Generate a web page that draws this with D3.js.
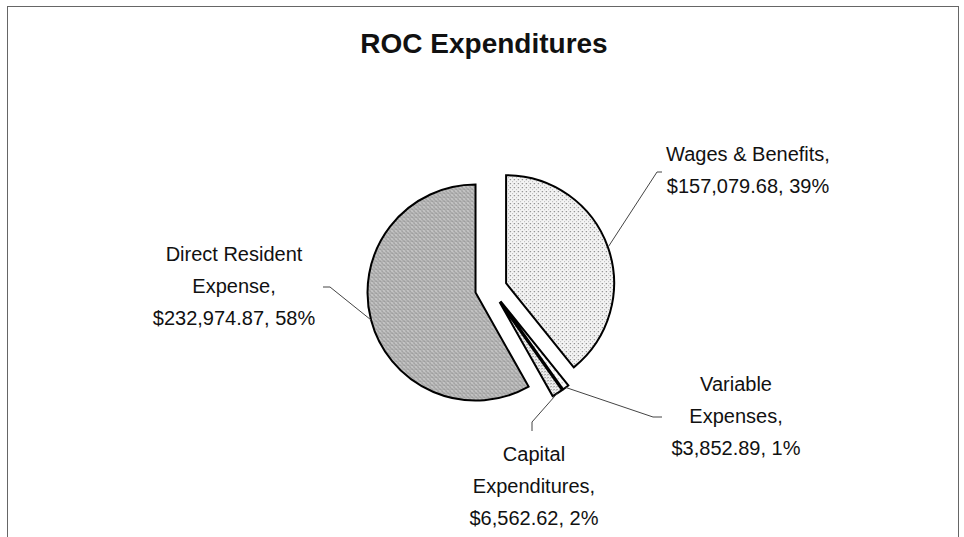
<!DOCTYPE html>
<html>
<head>
<meta charset="utf-8">
<script src="https://cdn.jsdelivr.net/npm/d3@7"></script>
<style>
  html, body { margin: 0; padding: 0; background: #fff; }
  svg { display: block; }
  text { font-family: "Liberation Sans", Arial, sans-serif; fill: #111; }
</style>
</head>
<body>
<svg id="chart" width="964" height="537"></svg>
<script>
// ---- data ----
const title = "ROC Expenditures";
const categories = ["Wages & Benefits", "Variable Expenses", "Capital Expenditures", "Direct Resident Expense"];
const values = [157079.68, 3852.89, 6562.62, 232974.87];
const percents = ["39%", "1%", "2%", "58%"];
const labelLines = [
  ["Wages & Benefits,", "$157,079.68, 39%"],
  ["Variable", "Expenses,", "$3,852.89, 1%"],
  ["Capital", "Expenditures,", "$6,562.62, 2%"],
  ["Direct Resident", "Expense,", "$232,974.87, 58%"]
];

// ---- layout ----
const W = 964, H = 537;
const cx = 491, cy = 288.5, R = 108, explode = 16;
const lineH = 32;
// label anchor (center x, first baseline y) and leader end point per slice
const labelPos = [
  {x: 748, y: 161, lx: 657, ly: 172, hx: 662},
  {x: 736, y: 391, lx: 653, ly: 417, hx: 662},
  {x: 534, y: 461, lx: 532, ly: 422, vy: 431},
  {x: 234, y: 261, lx: 330, ly: 287, hx: 323}
];
const fills = ["url(#patWages)", "url(#patVariable)", "url(#patCapital)", "url(#patDirect)"];

const svg = d3.select("#chart");

// patterns
const defs = svg.append("defs");
function makePattern(id, size, bg, dots) {
  const p = defs.append("pattern").attr("id", id).attr("patternUnits", "userSpaceOnUse")
    .attr("width", size).attr("height", size);
  p.append("rect").attr("width", size).attr("height", size).attr("fill", bg);
  dots.forEach(d => p.append("rect").attr("x", d[0]).attr("y", d[1]).attr("width", 1).attr("height", 1).attr("fill", d[2]));
}
makePattern("patDirect", 4, "#bcbcbc", [[0,0,"#555"],[2,2,"#666"],[1,3,"#e6e6e6"],[3,1,"#dcdcdc"],[2,0,"#8a8a8a"]]);
makePattern("patWages", 4, "#f4f4f4", [[0,0,"#777"],[2,2,"#b0b0b0"],[3,0,"#cfcfcf"]]);
makePattern("patCapital", 3, "#eeeeee", [[0,0,"#7a7a7a"],[2,1,"#bbbbbb"]]);
makePattern("patVariable", 4, "#fafafa", [[1,1,"#9a9a9a"]]);

// border
svg.append("rect").attr("x", 7.5).attr("y", 6.5).attr("width", 951).attr("height", 560)
  .attr("fill", "none").attr("stroke", "#666").attr("stroke-width", 1);

// title
svg.append("text").attr("x", 484).attr("y", 53).attr("text-anchor", "middle")
  .attr("font-size", 28).attr("font-weight", "bold").text(title);

// pie
const pie = d3.pie().sort(null).startAngle(0).endAngle(2 * Math.PI);
const arcs = pie(values);
const arc = d3.arc().innerRadius(0).outerRadius(R);

function offset(d) {
  const a = (d.startAngle + d.endAngle) / 2;
  return [Math.sin(a) * explode, -Math.cos(a) * explode];
}

const g = svg.append("g").attr("transform", `translate(${cx},${cy})`);
g.selectAll("path.slice").data(arcs).enter().append("path")
  .attr("class", "slice")
  .attr("transform", d => { const o = offset(d); return `translate(${o[0]},${o[1]})`; })
  .attr("d", arc)
  .attr("fill", (d, i) => fills[i])
  .attr("stroke", "#000").attr("stroke-width", 2).attr("stroke-linejoin", "miter");

// leader lines
arcs.forEach((d, i) => {
  const a = (d.startAngle + d.endAngle) / 2;
  const o = offset(d);
  const sx = cx + o[0] + Math.sin(a) * R;
  const sy = cy + o[1] - Math.cos(a) * R;
  const lp = labelPos[i];
  const pts = [[sx, sy], [lp.lx, lp.ly]];
  if (lp.hx !== undefined) pts.push([lp.hx, lp.ly]);
  if (lp.vy !== undefined) pts.push([lp.lx, lp.vy]);
  svg.append("path").attr("d", d3.line()(pts))
    .attr("fill", "none").attr("stroke", "#444").attr("stroke-width", 1);
});

// labels
labelLines.forEach((lines, i) => {
  const lp = labelPos[i];
  const t = svg.append("text").attr("text-anchor", "middle").attr("font-size", 20);
  lines.forEach((ln, j) => {
    t.append("tspan").attr("x", lp.x).attr("y", lp.y + j * lineH).text(ln);
  });
});
</script>
</body>
</html>
